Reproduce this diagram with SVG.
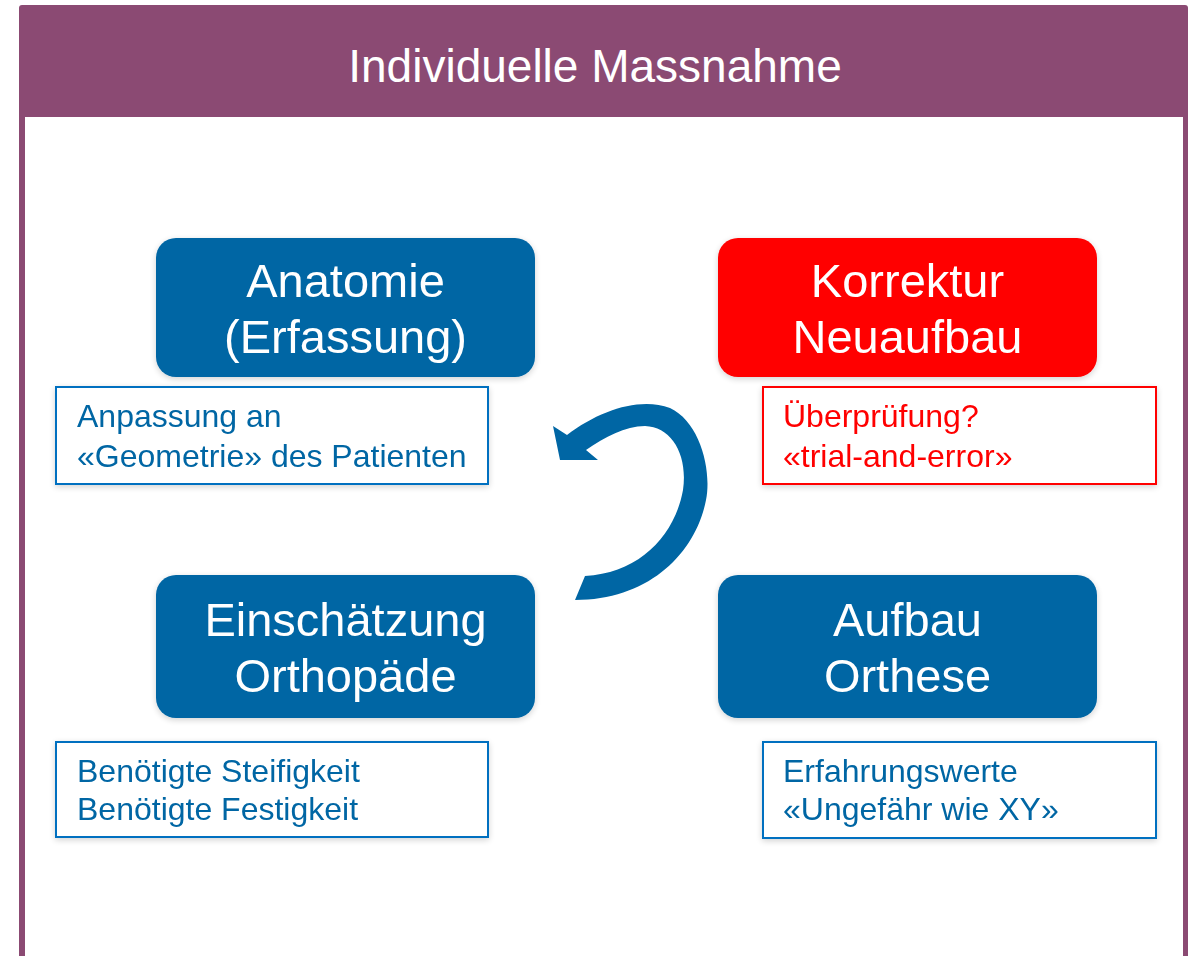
<svg xmlns="http://www.w3.org/2000/svg" width="1194" height="956" viewBox="0 0 1194 956">
<defs>
<filter id="sh" x="-10%" y="-20%" width="120%" height="150%">
<feGaussianBlur in="SourceAlpha" stdDeviation="3"/>
<feOffset dx="0" dy="2" result="b"/>
<feComponentTransfer><feFuncA type="linear" slope="0.18"/></feComponentTransfer>
<feMerge><feMergeNode/><feMergeNode in="SourceGraphic"/></feMerge>
</filter>
</defs>
<style>
text{font-family:"Liberation Sans",Arial,sans-serif}
.title{fill:#fff;font-size:46px;text-anchor:middle}
.big{fill:#fff;font-size:47px;text-anchor:middle}
.blue{fill:#0066A4}
.red{fill:#FF0000}
.tb{fill:#fff;stroke-width:2}
.tbb{stroke:#0070C0}
.tbr{stroke:#FF0000}
.small{font-size:32px}
.st{fill:#0066A4}
.sr{fill:#FF0000}
</style>
<rect width="1194" height="956" fill="#fff"/>
<g id="frame">
<rect x="19" y="5" width="1169" height="1000" rx="3" fill="#8B4A73"/>
<rect x="25" y="117" width="1158" height="900" fill="#fff"/>
<text class="title" x="595" y="82">Individuelle Massnahme</text>
</g>
<g id="connectors">
<path d="M567,435 C600,410 640,397 670,408 C700,422 712,470 706,500 C696,552 650,600 575,600 L585,576 C640,573 675,535 683,490 C688,455 672,427 645,426 C625,426 605,437 586,450 L598,460 L560,460 L553,426 Z" fill="#0066A4"/>
</g>
<g id="anatomie" filter="url(#sh)">
<rect class="blue" x="156" y="238" width="379" height="139" rx="20"/>
<text class="big" x="345.5" y="297">Anatomie</text>
<text class="big" x="345.5" y="353">(Erfassung)</text>
</g>
<g id="korrektur" filter="url(#sh)">
<rect class="red" x="718" y="238" width="379" height="139" rx="20"/>
<text class="big" x="907.5" y="297">Korrektur</text>
<text class="big" x="907.5" y="353">Neuaufbau</text>
</g>
<g id="einschaetzung" filter="url(#sh)">
<rect class="blue" x="156" y="575" width="379" height="143" rx="20"/>
<text class="big" x="345.5" y="636">Einschätzung</text>
<text class="big" x="345.5" y="692">Orthopäde</text>
</g>
<g id="aufbau" filter="url(#sh)">
<rect class="blue" x="718" y="575" width="379" height="143" rx="20"/>
<text class="big" x="907.5" y="636">Aufbau</text>
<text class="big" x="907.5" y="692">Orthese</text>
</g>
<g id="note-anpassung" filter="url(#sh)">
<rect class="tb tbb" x="56" y="387" width="432" height="97"/>
<text class="small st" x="77" y="427">Anpassung an</text>
<text class="small st" x="77" y="467">«Geometrie» des Patienten</text>
</g>
<g id="note-ueberpruefung" filter="url(#sh)">
<rect class="tb tbr" x="763" y="387" width="393" height="97"/>
<text class="small sr" x="783" y="427">Überprüfung?</text>
<text class="small sr" x="783" y="467">«trial-and-error»</text>
</g>
<g id="note-steifigkeit" filter="url(#sh)">
<rect class="tb tbb" x="56" y="742" width="432" height="95"/>
<text class="small st" x="77" y="782">Benötigte Steifigkeit</text>
<text class="small st" x="77" y="820">Benötigte Festigkeit</text>
</g>
<g id="note-erfahrung" filter="url(#sh)">
<rect class="tb tbb" x="763" y="742" width="393" height="96"/>
<text class="small st" x="783" y="782">Erfahrungswerte</text>
<text class="small st" x="783" y="820">«Ungefähr wie XY»</text>
</g>
</svg>
